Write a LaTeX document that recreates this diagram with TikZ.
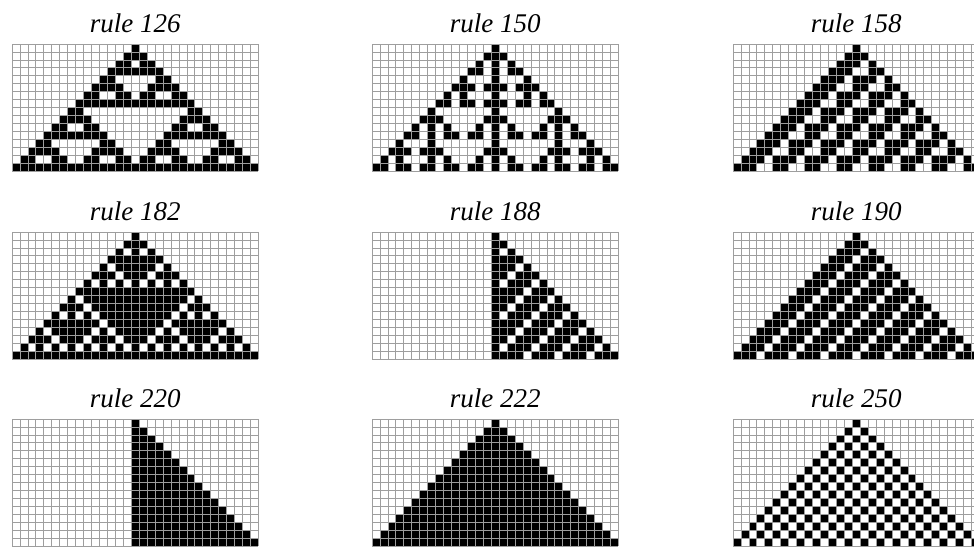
\documentclass[tikz,border=0pt]{standalone}
\usepackage{fontspec}
\setmainfont{Liberation Serif}
\usetikzlibrary{positioning}

\tikzset{
  cagrid/.style={draw=black!38, line width=0.8pt},
  cacell/.style={fill=black},
  calabel/.style={font=\fontsize{27}{30}\selectfont\itshape, anchor=base, inner sep=0pt}
}
\newcommand{\cellsz}{7.95}

% run an elementary rule from one black cell, 16 rows of 31 cells
\newcommand{\caRun}[1]{%
  \foreach \k in {0,...,7}{%
    \pgfmathtruncatemacro{\b}{mod(floor(#1/(2^\k)),2)}%
    \expandafter\xdef\csname cab-\k\endcsname{\b}}%
  \foreach \i in {0,...,32}{\expandafter\xdef\csname ca-0-\i\endcsname{0}}%
  \expandafter\xdef\csname ca-0-16\endcsname{1}%
  \foreach \t [count=\s from 0] in {1,...,15}{%
    \expandafter\xdef\csname ca-\t-0\endcsname{0}%
    \expandafter\xdef\csname ca-\t-32\endcsname{0}%
    \foreach \i in {1,...,31}{%
      \edef\k{\the\numexpr 4*\csname ca-\s-\the\numexpr\i-1\relax\endcsname
        +2*\csname ca-\s-\i\endcsname
        +\csname ca-\s-\the\numexpr\i+1\relax\endcsname\relax}%
      \expandafter\xdef\csname ca-\t-\i\endcsname{\csname cab-\k\endcsname}}}%
}

% one panel: node name, rule, top left corner
\newcommand{\caPanel}[4]{%
  \caRun{#2}%
  \foreach \t in {0,...,15}{\foreach \i in {1,...,31}{%
    \ifnum\csname ca-\t-\i\endcsname=1
      \fill[cacell] ({#3+(\i-1)*\cellsz},{#4+\t*\cellsz}) rectangle ++(\cellsz,\cellsz);
    \fi}}%
  \foreach \i in {0,...,31}{\draw[cagrid] ({#3+\i*\cellsz},#4) -- ++(0,{16*\cellsz});}
  \foreach \t in {0,...,16}{\draw[cagrid] (#3,{#4+\t*\cellsz}) -- ++({31*\cellsz},0);}
  \node[calabel] (#1) at ({#3+15.5*\cellsz},{#4-12}) {rule #2};
}

\begin{document}
\begin{tikzpicture}[x=1pt, y=-1pt]
  \useasboundingbox (0,0) rectangle (974,547);
  \clip (0,0) rectangle (974,547);

  % first row
  \caPanel{r126}{126}{12}{44}
  \caPanel{r150}{150}{372}{44}
  \caPanel{r158}{158}{733}{44}

  % second row
  \caPanel{r182}{182}{12}{232}
  \caPanel{r188}{188}{372}{232}
  \caPanel{r190}{190}{733}{232}

  % third row
  \caPanel{r220}{220}{12}{419}
  \caPanel{r222}{222}{372}{419}
  \caPanel{r250}{250}{733}{419}
\end{tikzpicture}
\end{document}
